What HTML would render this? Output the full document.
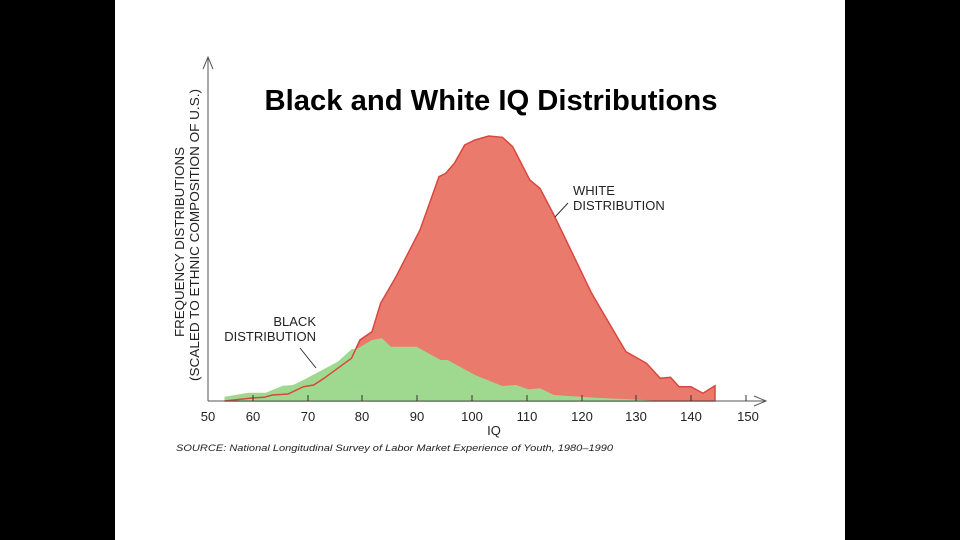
<!DOCTYPE html>
<html><head><meta charset="utf-8"><style>
html,body{margin:0;padding:0;background:#000;}
svg{display:block;}
text{font-family:"Liberation Sans",Arial,sans-serif;}
</style></head><body>
<svg width="960" height="540" viewBox="0 0 960 540" xmlns="http://www.w3.org/2000/svg">
<rect x="0" y="0" width="960" height="540" fill="#000"/>
<rect x="115" y="0" width="730" height="540" fill="#fff"/>
<text x="491" y="110" font-size="29" font-weight="bold" text-anchor="middle" textLength="453" lengthAdjust="spacingAndGlyphs" fill="#000">Black and White IQ Distributions</text>
<path d="M224.5,401 L252,398 L264,397.3 L272.5,395 L288,394 L303.4,386.7 L313.7,385 L324,378.3 L337.7,368.3 L351.5,358.3 L360,340 L372,331.7 L380.6,303.3 L396,276.7 L420,230 L439,176.7 L445.8,173.3 L454.4,163.3 L464.7,145 L475,140 L488.7,136 L502.4,137.3 L512.7,146.7 L529.8,180 L540,188.3 L553.9,215 L567.6,243.3 L591.6,293.3 L625.9,351.7 L646.5,363.3 L660.2,378.3 L670.5,377.3 L679,386.7 L691,386.7 L703,393.3 L715,385.7 L715,401 Z" fill="#ea7b6c" stroke="#d9473f" stroke-width="1.5"/>
<path d="M224.5,396.7 L248.5,392.7 L265.7,392.7 L282.8,385.7 L293,385 L303.4,380 L337.7,361.7 L351.5,349.3 L358,348.3 L372,340 L382,338.3 L390.9,346.7 L416.6,346.7 L440.6,360 L447.5,360 L475,375 L502.4,386 L516,385 L528,389.3 L540,388.3 L553.9,395 L595,397.7 L663.6,401 L224.5,401 Z" fill="#9fd98f"/>
<path d="M224.5,401 L252,398 L264,397.3 L272.5,395 L288,394 L303.4,386.7 L313.7,385 L324,378.3 L337.7,368.3 L351.5,358.3 L360,340 L372,331.7" fill="none" stroke="#d9473f" stroke-width="1.5"/>
<line x1="208" y1="57" x2="208" y2="401" stroke="#555" stroke-width="1"/>
<polyline points="203,69 208,57 213,69" fill="none" stroke="#555" stroke-width="1"/>
<line x1="208" y1="401" x2="766" y2="401" stroke="#555" stroke-width="1"/>
<polyline points="754,396 766,401 754,406" fill="none" stroke="#555" stroke-width="1"/>
<g stroke="#333" stroke-width="1">
<line x1="253" y1="395" x2="253" y2="401"/><line x1="308" y1="395" x2="308" y2="401"/><line x1="362" y1="395" x2="362" y2="401"/><line x1="417" y1="395" x2="417" y2="401"/><line x1="472" y1="395" x2="472" y2="401"/><line x1="527" y1="395" x2="527" y2="401"/><line x1="582" y1="395" x2="582" y2="401"/><line x1="636" y1="395" x2="636" y2="401"/><line x1="691" y1="395" x2="691" y2="401"/><line x1="746" y1="395" x2="746" y2="401"/>
</g>
<g font-size="13" fill="#222" text-anchor="middle">
<text x="208" y="421">50</text><text x="253" y="421">60</text><text x="308" y="421">70</text><text x="362" y="421">80</text><text x="417" y="421">90</text><text x="472" y="421">100</text><text x="527" y="421">110</text><text x="582" y="421">120</text><text x="636" y="421">130</text><text x="691" y="421">140</text><text x="748" y="421">150</text>
<text x="494" y="435">IQ</text>
</g>
<text x="176" y="451" font-size="9.5" font-style="italic" fill="#222" textLength="437" lengthAdjust="spacingAndGlyphs">SOURCE: National Longitudinal Survey of Labor Market Experience of Youth, 1980–1990</text>
<g font-size="13" fill="#222" text-anchor="middle">
<text transform="translate(184,242) rotate(-90)" textLength="190" lengthAdjust="spacingAndGlyphs">FREQUENCY DISTRIBUTIONS</text>
<text transform="translate(199,235) rotate(-90)" textLength="292" lengthAdjust="spacingAndGlyphs">(SCALED TO ETHNIC COMPOSITION OF U.S.)</text>
</g>
<g font-size="13" fill="#222">
<text x="573" y="195">WHITE</text>
<text x="573" y="210">DISTRIBUTION</text>
<text x="316" y="326" text-anchor="end">BLACK</text>
<text x="316" y="341" text-anchor="end">DISTRIBUTION</text>
</g>
<line x1="555" y1="217" x2="568" y2="203" stroke="#333" stroke-width="1"/>
<line x1="300" y1="348" x2="316" y2="368" stroke="#333" stroke-width="1"/>
</svg>
</body></html>
